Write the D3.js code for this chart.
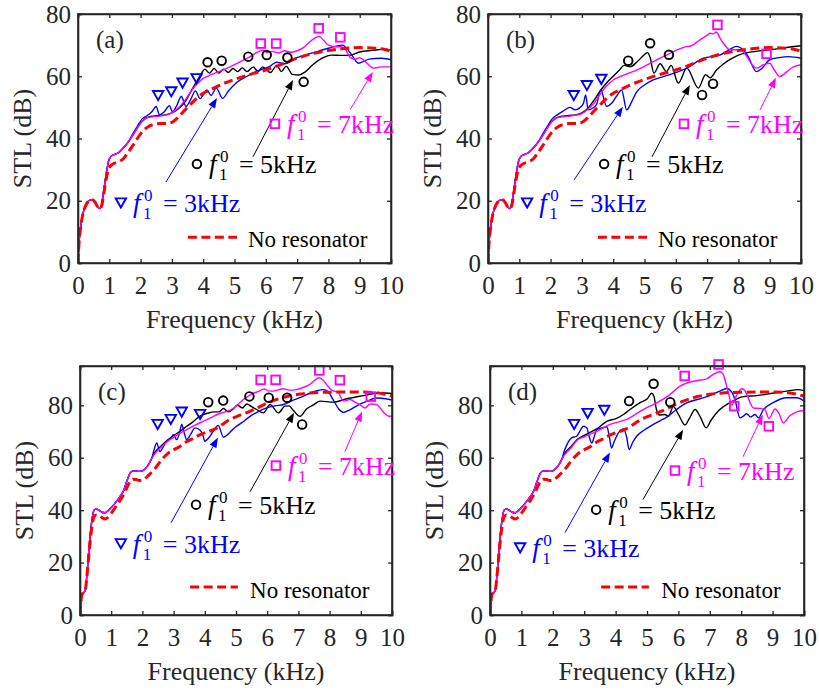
<!DOCTYPE html>
<html>
<head>
<meta charset="utf-8">
<script src="https://cdn.jsdelivr.net/npm/d3@7"></script>
<style>
  body { margin: 0; background: #fff; }
  svg text { font-family: "Liberation Serif", "Times New Roman", Times, "DejaVu Serif", serif !important; }
</style>
</head>
<body>
<svg id="fig" width="819" height="693" font-family="Liberation Serif, Times New Roman, serif"></svg>
<script>
// ---------- Data: sound transmission loss (dB) vs frequency (kHz) ----------

const xTicks = [0, 1, 2, 3, 4, 5, 6, 7, 8, 9, 10];
const yTicks = [0, 20, 40, 60, 80];

// Low-frequency part shared by the resonator curves, top row (a, b)
const onsetTop = [[0,0],[0.03,6],[0.08,11],[0.15,15.5],[0.25,18.5],[0.35,20],[0.45,20.3],[0.55,19.5],
  [0.63,18],[0.7,17.5],[0.76,19],[0.82,23],[0.9,28.5],[0.97,32.5],[1.05,34.2],[1.15,34.8],[1.3,35.5],
  [1.45,37],[1.6,38.8]];

// No resonator, top row
const redTop = [[0,0],[0.03,6],[0.08,11],[0.15,15.5],[0.25,18.5],[0.35,20],[0.45,20.3],[0.55,19.5],
  [0.63,18],[0.7,17.5],[0.76,18.5],[0.82,22],[0.9,27],[0.97,30],[1.05,31.3],[1.15,32],[1.3,32.5],
  [1.45,33.5],[1.6,35.5],[1.8,38.5],[2.0,41.5],[2.2,43.5],[2.4,44.5],[2.6,44.8],[2.8,44.8],[3.0,45.2],
  [3.2,46.8],[3.4,49],[3.6,51],[3.8,53],[4.0,54.5],[4.2,55.5],[4.5,57],[5.0,59],[5.5,60.6],[6.0,62],
  [6.5,63.8],[7.0,65.8],[7.5,67.3],[8.0,68.3],[8.5,68.9],[9.0,69.2],[9.5,69],[9.8,68.6],[10,68]];

// Panel (a)
const blackA = [[1.75,41],[1.9,43.5],[2.05,45.5],[2.2,46.7],[2.4,47.2],[2.6,47.4],[2.8,47.6],[3.0,48.2],
  [3.2,49.5],[3.4,51.5],[3.6,55],[3.8,58.5],[3.95,61],[4.05,62.3],[4.2,61],[4.35,62.5],[4.5,61],
  [4.65,62.3],[4.8,61.2],[4.95,62.5],[5.1,61.5],[5.25,62.7],[5.4,61.5],[5.6,63],[5.75,61.5],[5.9,63],
  [6.15,61.2],[6.35,63.5],[6.5,61.5],[6.65,63.2],[6.85,60.6],[7.05,60.4],[7.25,61.3],[7.5,63.7],
  [7.8,65.8],[8.1,66.8],[8.4,66.7],[8.7,66.8],[9.0,67.8],[9.4,68.3],[9.8,68.7],[10,68.4]];
const blueA = [[1.75,41.5],[1.9,44],[2.05,46.3],[2.2,47.3],[2.35,48.5],[2.5,50.3],[2.6,47.6],[2.75,48.5],
  [2.92,50.5],[3.02,48.6],[3.15,50.5],[3.3,53.5],[3.45,50.3],[3.6,52.5],[3.75,55.3],[3.9,52.8],[4.0,54],
  [4.12,55.6],[4.25,53.8],[4.42,56.2],[4.62,52.9],[4.8,55.2],[5.07,58],[5.4,60],[5.8,62],[6.1,63],
  [6.35,64.5],[6.6,64],[7.0,66],[7.5,67.5],[8.0,69],[8.45,70],[8.7,67.5],[8.96,64.2],[9.3,65.5],
  [9.7,65.8],[10,65.3]];
const magentaA = [[1.75,41],[1.9,43.5],[2.05,45.5],[2.2,46.6],[2.4,47],[2.6,47.2],[2.8,47.5],[3.0,48.2],
  [3.2,49.8],[3.4,52],[3.6,55],[3.8,57.5],[4.0,59.3],[4.25,60.5],[4.5,61.5],[4.75,62.5],[5.0,63.7],
  [5.25,65],[5.5,66.3],[5.75,67.8],[5.9,68.3],[6.05,67.6],[6.2,68],[6.4,67.5],[6.6,68.2],[6.8,67.7],
  [7.0,68.2],[7.2,69.2],[7.4,71],[7.6,72.5],[7.7,72.8],[7.85,71.5],[8.0,70],[8.2,69.5],[8.4,69.5],
  [8.55,68.5],[8.7,66],[8.85,65.5],[9.0,66],[9.2,64.5],[9.45,62.6],[9.7,63],[10,63]];

// Panel (b)
const blackB = [[1.75,41],[1.9,43.5],[2.05,45.5],[2.2,46.7],[2.4,47.2],[2.6,47.4],[2.8,47.6],[3.0,48.2],
  [3.2,49.8],[3.4,52.5],[3.6,55.5],[3.8,58],[4.0,60],[4.2,62],[4.35,63.5],[4.55,63.1],[4.75,64.5],
  [4.95,66.5],[5.1,67.6],[5.18,66],[5.3,61],[5.5,64],[5.7,61.5],[5.85,63.5],[6.08,57.8],[6.35,62.6],
  [6.72,56.2],[6.95,60.5],[7.1,59.5],[7.3,62],[7.5,63.8],[7.75,65.5],[8.0,66.8],[8.3,67.6],[8.7,68.2],
  [9.0,68.5],[9.5,69.2],[10,69.8]];
const blueB = [[1.75,41.5],[1.9,44],[2.05,46.3],[2.2,47.5],[2.4,48.8],[2.62,50],[2.78,49.2],[2.95,50],
  [3.05,51.3],[3.12,54],[3.2,49.2],[3.35,49.8],[3.47,51],[3.6,55.6],[3.79,50.3],[3.95,51.3],[4.1,53.5],
  [4.27,55.6],[4.43,49.2],[4.6,52],[4.75,55],[5.0,57.2],[5.28,58.8],[5.81,60.5],[6.35,62.6],[6.88,65.8],
  [7.41,66.8],[7.7,68.5],[7.94,69.6],[8.15,68.5],[8.3,66.5],[8.58,61.5],[8.75,62.5],[9.0,65.3],[9.3,66],
  [9.6,66.3],[10,65.8]];
const magentaB = [[1.75,41],[1.9,43.5],[2.05,45.5],[2.2,46.6],[2.4,47],[2.6,47.2],[2.8,47.5],[3.0,48],
  [3.2,49.5],[3.4,51.5],[3.6,54.5],[3.8,57],[4.0,58.8],[4.25,60],[4.5,61],[4.75,62],[5.0,63.2],
  [5.25,64.5],[5.5,65.8],[5.75,67],[6.0,68.3],[6.25,69.3],[6.5,69.8],[6.75,71.5],[7.0,73.2],[7.1,73.8],
  [7.2,73.6],[7.3,74.2],[7.4,72.5],[7.52,70.6],[7.73,68.5],[8.05,68.5],[8.26,66.5],[8.45,63.5],
  [8.58,62.6],[8.8,63.7],[9.0,64.2],[9.15,62],[9.33,59.9],[9.55,61.5],[9.76,63],[10,63.7]];

// Low-frequency part shared by the resonator curves, bottom row (c, d)
const onsetBottom = [[0,0],[0.03,5],[0.07,8],[0.12,8.5],[0.17,9.5],[0.22,15],[0.3,27],[0.38,36],
  [0.45,40],[0.52,40.5],[0.6,40],[0.7,39.2],[0.8,39],[0.9,39.8],[1.0,41],[1.1,42.3],[1.2,43.8],
  [1.3,45.5],[1.4,47.5],[1.5,51],[1.6,54],[1.7,55],[1.8,55],[1.9,54.8],[2.0,55],[2.1,56],[2.2,57.5],
  [2.3,59.8]];

// No resonator, bottom row
const redBottom = [[0,0],[0.03,5],[0.07,8],[0.12,8.5],[0.17,9.5],[0.22,14.5],[0.3,25],[0.38,33.5],
  [0.45,37.5],[0.52,38.2],[0.6,38],[0.7,37.2],[0.8,36.6],[0.9,37.3],[1.0,38.8],[1.1,40.5],[1.2,42.3],
  [1.3,44],[1.4,46],[1.5,48.5],[1.6,50.8],[1.7,51.8],[1.8,51.7],[1.9,51.3],[2.0,51.4],[2.1,52.2],
  [2.2,53.3],[2.4,55.8],[2.6,59],[2.8,61.5],[3.0,63],[3.2,64.3],[3.4,66],[3.6,67.2],[3.8,68.5],
  [4.0,69.5],[4.3,70.8],[4.6,73],[4.8,74.6],[5.0,75.6],[5.3,77],[5.6,78.5],[5.9,80.3],[6.2,81.8],
  [6.5,83],[7.0,84.2],[7.5,84.8],[8.0,85],[9.0,85.1],[9.5,84.8],[10,83.5]];

// Panel (c)
const blackC = [[2.4,62],[2.6,64.5],[2.78,66.5],[3.0,68.5],[3.2,70],[3.42,72],[3.6,73.5],[3.8,75.5],
  [3.95,76.5],[4.1,77],[4.3,77.5],[4.45,77.5],[4.6,78.8],[4.75,77.5],[4.91,78.6],[5.05,80],[5.2,79],
  [5.35,80.5],[5.5,79.5],[5.66,78.4],[5.88,77.1],[6.09,80.3],[6.36,77.1],[6.57,79.7],[6.7,79.8],
  [6.84,78],[7.05,75.8],[7.26,78.6],[7.5,80.3],[7.69,81.6],[8.12,81.2],[8.55,82.5],[9.08,83.7],
  [9.62,84.8],[10,84.5]];
const blueC = [[2.35,62],[2.46,65.6],[2.56,62.3],[2.65,63.8],[2.78,66.3],[2.92,67.5],[2.99,68.8],
  [3.1,66.9],[3.18,69],[3.26,72.7],[3.34,69.5],[3.42,66.9],[3.55,69],[3.69,71.4],[3.85,70.5],[3.93,69],
  [4.0,66.3],[4.12,67.5],[4.27,70.1],[4.43,72.3],[4.6,67.8],[4.75,69],[4.91,71],[5.2,73.5],[5.45,75.8],
  [5.7,77.5],[5.98,79],[6.25,79.8],[6.52,80.3],[6.8,81.8],[7.05,82.9],[7.35,84.5],[7.6,85.6],[7.8,86],
  [7.95,85.2],[8.12,82],[8.3,78.5],[8.45,77.3],[8.6,78],[8.76,79],[9.0,80.6],[9.2,81.6],[9.5,82.8],
  [9.8,82.5],[10,82]];
const magentaC = [[2.4,61.5],[2.6,64],[2.78,66],[3.0,67.8],[3.2,69.3],[3.42,70.7],[3.7,72.5],[3.95,73.9],
  [4.2,75.3],[4.4,76.5],[4.65,77.5],[4.91,78.8],[5.1,80.8],[5.3,82.8],[5.5,84.3],[5.7,85.2],[5.9,86.2],
  [6.05,85.5],[6.2,85.4],[6.35,85.9],[6.52,86.3],[6.7,85.8],[6.95,86],[7.15,86.8],[7.37,88],[7.55,89.8],
  [7.67,90.5],[7.8,89.5],[7.9,88],[8.05,86],[8.15,85.4],[8.28,85],[8.36,83],[8.45,81.6],[8.65,82.2],
  [8.85,81],[8.97,80.3],[9.13,79],[9.3,80.5],[9.5,80.3],[9.62,79],[9.75,77.1],[9.9,75.8],[10,75.8]];

// Panel (d)
const blackD = [[2.4,62],[2.6,64.5],[2.76,66.8],[3.0,68.5],[3.2,69.8],[3.4,71],[3.72,73.9],[4.03,75],
  [4.25,76.5],[4.46,78.4],[4.78,81],[5.01,82.5],[5.15,84.6],[5.22,83.5],[5.3,78.5],[5.4,76.3],
  [5.57,76.5],[5.68,75.8],[5.84,79.5],[6.0,76.5],[6.21,72.5],[6.35,75],[6.53,78.4],[6.7,75.5],
  [6.88,71.4],[7.05,74.5],[7.3,78.2],[7.64,81],[8.07,83.3],[8.5,83.7],[9.0,84.6],[9.5,85.5],[9.8,86],
  [10,85.6]];
const blueD = [[2.35,62],[2.45,65],[2.6,67.6],[2.76,68.2],[2.88,70.5],[2.97,72],[3.08,71.4],[3.16,68],
  [3.24,65.6],[3.32,68],[3.4,70.7],[3.6,71.5],[3.72,71.8],[3.8,68],[3.87,63.7],[3.95,66],[4.09,69.5],
  [4.25,71],[4.35,68],[4.43,63.1],[4.55,66],[4.67,68.2],[4.9,70.5],[5.1,72],[5.4,74],[5.63,75.5],
  [5.94,78.4],[6.26,80.9],[6.69,82.5],[7.0,83.7],[7.32,85.4],[7.54,86.4],[7.7,85],[7.8,82.2],
  [7.96,75.2],[8.08,76],[8.17,76.8],[8.3,75.5],[8.44,76.5],[8.55,75.2],[8.71,78.4],[9.0,80.9],
  [9.45,82.9],[9.77,82.9],[10,81.6]];
const magentaD = [[2.4,61.5],[2.6,64],[2.76,66.5],[3.0,68],[3.4,70.1],[3.82,72.7],[4.35,74.6],[4.88,78.4],
  [5.31,80.9],[5.73,84.1],[6.05,87.3],[6.48,89.2],[6.9,90.1],[7.11,91.8],[7.32,92.8],[7.42,92],[7.5,89],
  [7.6,84.5],[7.7,80],[7.8,82.5],[7.91,85],[8.02,86.3],[8.12,85.5],[8.2,83.5],[8.39,79],[8.6,78.8],
  [8.75,78.5],[8.88,75],[9.08,78.6],[9.2,77],[9.34,73.3],[9.55,76],[9.77,77.5],[10,78]];

// Resonance markers: [frequency kHz, STL dB]
const triA = [[2.56,53.8],[2.98,55],[3.34,57.8],[3.79,59.2]];
const circA = [[4.14,64.5],[4.59,65],[5.44,66.3],[6.03,66.8],[6.69,66],[7.21,58.2]];
const sqA = [[5.84,70.5],[6.33,70.5],[7.69,75.4],[8.38,72.5]];
const triB = [[2.74,53.8],[3.16,57],[3.62,59]];
const circB = [[4.48,65],[5.18,70.6],[5.78,66.9],[6.84,54],[7.19,57.6]];
const sqB = [[7.33,76.5],[8.9,67.2]];
const triC = [[2.49,72.7],[2.91,74.6],[3.26,77.4],[3.85,76.5]];
const circC = [[4.11,81.2],[4.59,81.8],[5.43,83.4],[6.05,82.9],[6.64,82.9],[7.12,72.7]];
const sqC = [[5.79,89.7],[6.27,89.7],[7.67,93.3],[8.33,89.6],[9.32,83.3]];
const triD = [[2.68,72.7],[3.11,76.9],[3.64,78.1]];
const circD = [[4.43,81.6],[5.21,88.2],[5.74,81.2]];
const sqD = [[6.2,91.2],[7.28,95.6],[7.78,79.7],[8.88,72]];

// Label anchors (data units) per panel: symbol position, arrow start/end, legend
const labelsA = { tri:[1.37,19.3], triArrow:[[2.81,26],[4.44,53]],
  circ:[3.8,31.8], circArrow:[[5.59,34.1],[6.87,58.8]],
  sq:[6.29,44.7], sqArrow:[[8.69,49.2],[9.42,61.4]], legend:[3.51,5.08,8.3,5.43,5.2] };
const labelsB = { tri:[1.25,19.3], triArrow:[[2.75,26.7],[4.31,50.2]],
  circ:[3.71,31.8], circArrow:[[5.24,34.1],[6.45,57.2]],
  sq:[6.26,44.7], sqArrow:[[8.69,49.2],[9.2,59.5]], legend:[3.51,5.08,8.3,5.43,5.2] };
const labelsC = { tri:[1.31,27.2], triArrow:[[2.92,35.2],[4.42,67.7]],
  circ:[3.72,42.1], circArrow:[[5.45,47],[6.86,77.2]],
  sq:[6.28,57], sqArrow:[[8.49,62.3],[9.04,77.6]], legend:[3.53,5.06,10.7,5.45,6.6] };
const labelsD = { tri:[0.96,25.6], triArrow:[[2.39,31.4],[3.82,62]],
  circ:[3.38,40.2], circArrow:[[4.87,44],[6.15,70.7]],
  sq:[5.89,55.1], sqArrow:[[8.06,60.4],[8.69,76.5]], legend:[3.54,5.06,10.7,5.45,6.6] };

// ---------- Panel layout ----------
const panels = [
  { tag: "(a)", box: [78, 391, 14, 263], ymax: 80,
    series: [onsetTop.concat(blackA), onsetTop.concat(blueA), onsetTop.concat(magentaA), redTop],
    marks: [triA, circA, sqA], labels: labelsA },
  { tag: "(b)", box: [488, 801, 14, 263], ymax: 80,
    series: [onsetTop.concat(blackB), onsetTop.concat(blueB), onsetTop.concat(magentaB), redTop],
    marks: [triB, circB, sqB], labels: labelsB },
  { tag: "(c)", box: [80, 392, 366, 615], ymax: 95,
    series: [onsetBottom.concat(blackC), onsetBottom.concat(blueC), onsetBottom.concat(magentaC), redBottom],
    marks: [triC, circC, sqC], labels: labelsC },
  { tag: "(d)", box: [490, 804, 366, 615], ymax: 95,
    series: [onsetBottom.concat(blackD), onsetBottom.concat(blueD), onsetBottom.concat(magentaD), redBottom],
    marks: [triD, circD, sqD], labels: labelsD }
];

const SERIF = "'Liberation Serif', 'Times New Roman', Times, 'DejaVu Serif', serif";
const BLACK = "#000000", BLUE = "#0000ff", MAGENTA = "#ff00ff", RED = "#ff0000", INK = "#262626";
const lineColors = [BLACK, BLUE, MAGENTA];
const markColors = [BLUE, BLACK, MAGENTA];
const markTypes = ["tri", "circ", "sq"];
const labelValues = ["3kHz", "5kHz", "7kHz"];

const svg = d3.select("#fig");
svg.append("rect").attr("width", 819).attr("height", 693).attr("fill", "#fff");

function addText(g) {
  return g.append("text").style("font-family", SERIF);
}

function drawSymbol(g, type, cx, cy, color) {
  if (type === "tri") {
    const w = 5.2, h = 4.6;
    g.append("path")
      .attr("d", `M${cx - w},${cy - h}L${cx + w},${cy - h}L${cx},${cy + h}Z`)
      .attr("fill", "none").attr("stroke", color).attr("stroke-width", 1.9)
      .attr("stroke-linejoin", "miter");
  } else if (type === "circ") {
    g.append("circle").attr("cx", cx).attr("cy", cy).attr("r", 4.3)
      .attr("fill", "none").attr("stroke", color).attr("stroke-width", 1.9);
  } else {
    const s = 4.3;
    g.append("rect").attr("x", cx - s).attr("y", cy - s).attr("width", 2 * s).attr("height", 2 * s)
      .attr("fill", "none").attr("stroke", color).attr("stroke-width", 1.9);
  }
}

function drawArrow(g, x1, y1, x2, y2, color) {
  const ang = Math.atan2(y2 - y1, x2 - x1);
  const L = 10, W = 3.8;
  const bx = x2 - L * Math.cos(ang), by = y2 - L * Math.sin(ang);
  g.append("line").attr("x1", x1).attr("y1", y1).attr("x2", bx).attr("y2", by)
    .attr("stroke", color).attr("stroke-width", 1);
  const px = -Math.sin(ang) * W, py = Math.cos(ang) * W;
  g.append("path")
    .attr("d", `M${x2},${y2}L${bx + px},${by + py}L${bx - px},${by - py}Z`)
    .attr("fill", color);
}

function drawLabel(g, type, cx, cy, color, value) {
  drawSymbol(g, type, cx, cy, color);
  const sx = cx + 12, base = cy + 9;
  const t = g.append("g").attr("fill", color);
  addText(t).attr("x", sx).attr("y", base).attr("font-size", 27)
    .attr("font-style", "italic").text("f");
  addText(t).attr("x", sx + 11).attr("y", base - 11).attr("font-size", 17).text("0");
  addText(t).attr("x", sx + 10).attr("y", base + 7).attr("font-size", 17).text("1");
  addText(t).attr("x", sx + 30).attr("y", base).attr("font-size", 26)
    .text("= " + value);
}

panels.forEach((p, pi) => {
  const [L, R, T, B] = p.box;
  const x = d3.scaleLinear().domain([0, 10]).range([L, R]);
  const y = d3.scaleLinear().domain([0, p.ymax]).range([B, T]);
  const g = svg.append("g");

  const clipId = "clip" + pi;
  svg.append("clipPath").attr("id", clipId)
    .append("rect").attr("x", L).attr("y", T).attr("width", R - L).attr("height", B - T);

  // Curves
  const line = d3.line().x(d => x(d[0])).y(d => y(d[1])).curve(d3.curveMonotoneX);
  const curves = g.append("g").attr("clip-path", `url(#${clipId})`);
  p.series.slice(0, 3).forEach((s, i) => {
    curves.append("path").datum(s).attr("d", line)
      .attr("fill", "none").attr("stroke", lineColors[i]).attr("stroke-width", 1.4)
      .attr("stroke-linejoin", "round");
  });
  curves.append("path").datum(p.series[3]).attr("d", line)
    .attr("fill", "none").attr("stroke", RED).attr("stroke-width", 3)
    .attr("stroke-dasharray", "9,4.5");

  // Resonance markers
  p.marks.forEach((pts, i) => {
    pts.forEach(d => drawSymbol(g, markTypes[i], x(d[0]), y(d[1]), markColors[i]));
  });

  // Axes: box with inward ticks on all sides
  const ax = g.append("g");
  ax.append("g").attr("transform", `translate(0,${B})`)
    .call(d3.axisBottom(x).tickValues(xTicks).tickSize(-4).tickPadding(13).tickFormat(d3.format("d")));
  ax.append("g").attr("transform", `translate(0,${T})`)
    .call(d3.axisTop(x).tickValues(xTicks).tickSize(-4).tickFormat(""));
  ax.append("g").attr("transform", `translate(${L},0)`)
    .call(d3.axisLeft(y).tickValues(yTicks).tickSize(-4).tickPadding(7).tickFormat(d3.format("d")));
  ax.append("g").attr("transform", `translate(${R},0)`)
    .call(d3.axisRight(y).tickValues(yTicks).tickSize(-4).tickFormat(""));
  ax.selectAll("g").attr("font-family", null);
  ax.selectAll(".domain").attr("stroke", INK).attr("stroke-width", 1.6).attr("fill", "none");
  ax.selectAll(".tick line").attr("stroke", INK).attr("stroke-width", 1.3);
  ax.selectAll(".tick text").attr("fill", INK).attr("font-size", 25)
    .style("font-family", SERIF);
  ax.append("rect").attr("x", L).attr("y", T).attr("width", R - L).attr("height", B - T)
    .attr("fill", "none").attr("stroke", INK).attr("stroke-width", 1.6);

  // Axis titles
  addText(g).attr("x", (L + R) / 2).attr("y", B + 65).attr("text-anchor", "middle")
    .attr("font-size", 26).attr("fill", INK).text("Frequency (kHz)");
  addText(g).attr("transform", `translate(${L - 47},${(T + B) / 2}) rotate(-90)`)
    .attr("text-anchor", "middle").attr("font-size", 26).attr("fill", INK).text("STL (dB)");

  // Panel tag
  addText(g).attr("x", L + 18).attr("y", T + 34).attr("font-size", 25)
    .attr("fill", INK).text(p.tag);

  // Resonance-frequency labels with arrows
  const lb = p.labels;
  [["tri", lb.tri, lb.triArrow], ["circ", lb.circ, lb.circArrow], ["sq", lb.sq, lb.sqArrow]]
    .forEach(([type, pos, arr], i) => {
      const color = markColors[i];
      drawArrow(g, x(arr[0][0]), y(arr[0][1]), x(arr[1][0]), y(arr[1][1]), color);
      drawLabel(g, type, x(pos[0]), y(pos[1]), color, labelValues[i]);
    });

  // Legend entry for the reference case
  const [l0, l1, ly, tx, ty] = lb.legend;
  g.append("line").attr("x1", x(l0)).attr("x2", x(l1)).attr("y1", y(ly)).attr("y2", y(ly))
    .attr("stroke", RED).attr("stroke-width", 3).attr("stroke-dasharray", "9,4.5");
  addText(g).attr("x", x(tx)).attr("y", y(ty)).attr("font-size", 23)
    .attr("fill", BLACK).text("No resonator");
});
</script>
</body>
</html>
